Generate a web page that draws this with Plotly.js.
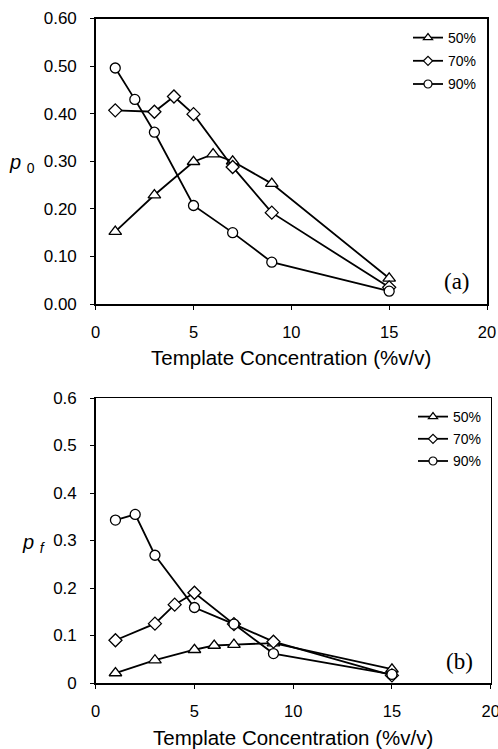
<!DOCTYPE html>
<html><head><meta charset="utf-8">
<script src="https://cdn.plot.ly/plotly-3.0.1.min.js"></script>
<style>html,body{margin:0;padding:0;background:#fff}#g{width:498px;height:749px}</style>
</head><body><div id="g"></div>
<script>
const seriesNames = ["50%", "70%", "90%"];
const x50 = [1, 3, 5, 6, 7, 9, 15];
const x70 = [1, 3, 4, 5, 7, 9, 15];
const x90 = [1, 2, 3, 5, 7, 9, 15];
const p0_50 = [0.152, 0.229, 0.299, 0.315, 0.300, 0.253, 0.054];
const p0_70 = [0.407, 0.404, 0.436, 0.399, 0.288, 0.192, 0.035];
const p0_90 = [0.496, 0.430, 0.361, 0.207, 0.150, 0.088, 0.027];
const pf_50 = [0.021, 0.048, 0.070, 0.079, 0.081, 0.084, 0.029];
const pf_70 = [0.090, 0.125, 0.165, 0.190, 0.124, 0.087, 0.016];
const pf_90 = [0.343, 0.355, 0.269, 0.159, 0.124, 0.062, 0.018];
const xTicksA = [0, 5, 10, 15, 20];
const yTicksA = [0, 0.1, 0.2, 0.3, 0.4, 0.5, 0.6];
const yTickTextA = ["0.00", "0.10", "0.20", "0.30", "0.40", "0.50", "0.60"];
const yTickTextB = ["0", "0.1", "0.2", "0.3", "0.4", "0.5", "0.6"];
const xTitle = "Template Concentration (%v/v)";

const symbols = ["triangle-up", "diamond", "circle"];
const sizes = [11, 10, 10];
const legSizes = [8, 7, 8];
const W = 498, H = 749;
const py = p => 1 - p / H, px = p => p / W;

function tr(x, y, i, ax) {
  return {
    x: x, y: y, name: seriesNames[i], type: "scatter", mode: "lines+markers",
    xaxis: ax[0], yaxis: ax[1], showlegend: false, hoverinfo: "skip",
    line: {color: "#000", width: 1.8},
    marker: {symbol: symbols[i], size: sizes[i], color: "#fff", line: {color: "#000", width: 1.3}}
  };
}
function legTr(i, ax, leg) {
  return {
    x: [null], y: [null], name: seriesNames[i], type: "scatter", mode: "lines+markers",
    xaxis: ax[0], yaxis: ax[1], legend: leg, legendgroup: leg + i,
    line: {color: "#000", width: 1.8},
    marker: {symbol: symbols[i], size: legSizes[i], color: "#fff", line: {color: "#000", width: 1.2}}
  };
}
const data = [
  tr(x50, p0_50, 0, ["x", "y"]),
  tr(x70, p0_70, 1, ["x", "y"]),
  tr(x90, p0_90, 2, ["x", "y"]),
  tr(x50, pf_50, 0, ["x2", "y2"]),
  tr(x70, pf_70, 1, ["x2", "y2"]),
  tr(x90, pf_90, 2, ["x2", "y2"]),
  legTr(0, ["x", "y"], "legend"), legTr(1, ["x", "y"], "legend"), legTr(2, ["x", "y"], "legend"),
  legTr(0, ["x2", "y2"], "legend2"), legTr(1, ["x2", "y2"], "legend2"), legTr(2, ["x2", "y2"], "legend2")
];
const sans = "Arial, Liberation Sans, sans-serif";
const tickFont = {family: sans, size: 16.5, color: "#000"};
function xa(dom, anchor) {
  return {domain: dom, anchor: anchor, range: [0, 20], tickvals: xTicksA, showgrid: false, zeroline: false,
    showline: true, linecolor: "#000", linewidth: 1.5, mirror: true, ticks: "outside", ticklen: 4,
    tickcolor: "#000", tickfont: tickFont, ticklabelstandoff: 9, ticklabeloverflow: "allow"};
}
function ya(dom, anchor, txt) {
  return {domain: dom, anchor: anchor, range: [0, 0.6], tickvals: yTicksA, ticktext: txt, showgrid: false,
    zeroline: false, showline: true, linecolor: "#000", linewidth: 1.5, mirror: true, ticks: "outside",
    ticklen: 4, tickcolor: "#000", tickfont: {family: sans, size: 17, color: "#000"}, ticklabelstandoff: 10};
}
const legFont = {family: sans, size: 14, color: "#000"};
function ann(text, x, y, font) {
  return {text: text, xref: "paper", yref: "paper", x: px(x), y: py(y), xanchor: "center", yanchor: "middle",
    showarrow: false, font: font};
}
const serif = {family: "Liberation Serif, Times New Roman, serif", size: 23, color: "#000"};
const pfont = {family: sans, size: 20, color: "#000"};
const titleFont = {family: sans, size: 20.5, color: "#000"};
const layout = {
  width: W, height: H, margin: {l: 0, r: 0, t: 0, b: 0}, paper_bgcolor: "#fff", plot_bgcolor: "#fff",
  showlegend: true,
  xaxis: xa([px(95.7), px(487)], "y"),
  yaxis: ya([py(304), py(18.5)], "x", yTickTextA),
  xaxis2: xa([px(95.7), px(490.7)], "y2"),
  yaxis2: ya([py(683), py(398)], "x2", yTickTextB),
  legend: {x: px(408), y: py(22), xanchor: "left", yanchor: "top", bgcolor: "rgba(0,0,0,0)",
    font: legFont, itemwidth: 30, tracegroupgap: 2},
  legend2: {x: px(413), y: py(401), xanchor: "left", yanchor: "top", bgcolor: "rgba(0,0,0,0)",
    font: legFont, itemwidth: 30, tracegroupgap: 1},
  annotations: [
    ann("(a)", 457, 281, serif),
    ann("(b)", 459, 661, serif),
    ann("<i>p</i> <sub>0</sub>", 22, 164, pfont),
    ann("<i>p</i> <sub><i>f</i></sub>", 34, 543, pfont),
    ann(xTitle, 291, 358, titleFont),
    ann(xTitle, 293, 737, titleFont)
  ]
};
Plotly.newPlot("g", data, layout, {staticPlot: true, displayModeBar: false});
</script></body></html>
